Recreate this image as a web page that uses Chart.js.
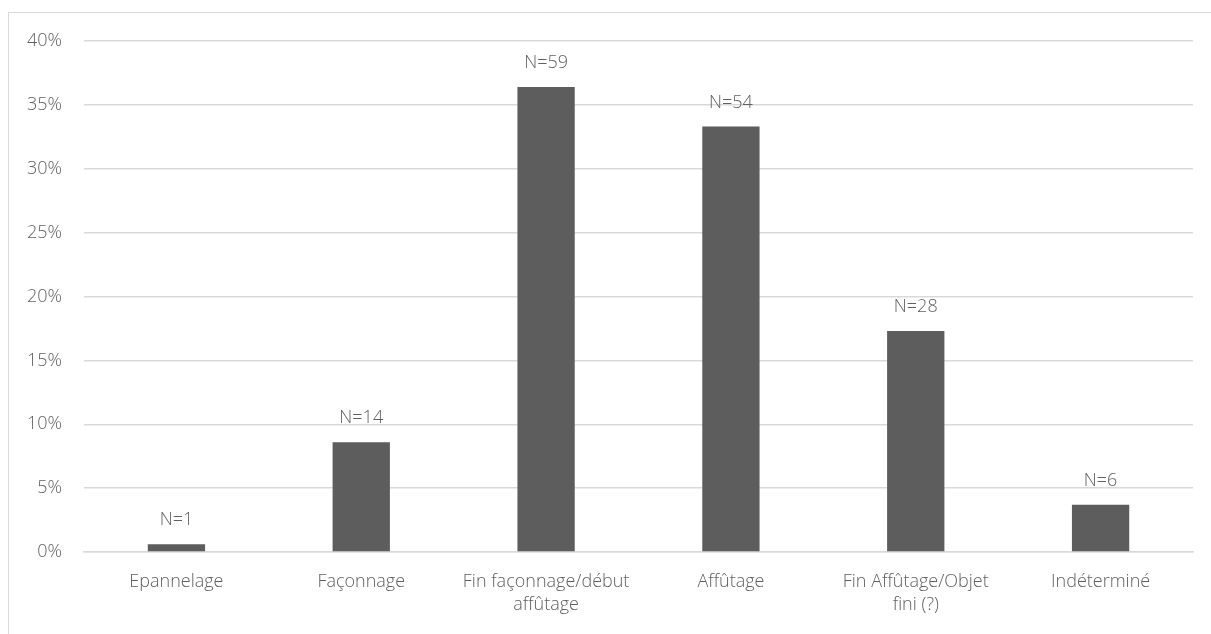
<!DOCTYPE html>
<html>
<head>
<meta charset="utf-8">
<script src="https://cdn.jsdelivr.net/npm/chart.js@4/dist/chart.umd.min.js"></script>
<style>
  body { margin: 0; background: #fff; overflow: hidden; }
  #frame {
    position: absolute; left: 8px; top: 12px;
    width: 1240px; height: 660px;
    border: 1px solid #d9d9d9;
  }
  #wrap { position: absolute; left: 0; top: 0; }
</style>
</head>
<body>
<div id="frame"></div>
<div id="wrap"><canvas id="phaseChart" width="1211" height="634"></canvas></div>
<script>
// ================= DATA =================
let categories = [
    "Epannelage",
    "Façonnage",
    ["Fin façonnage/début", "affûtage"],
    "Affûtage",
    ["Fin Affûtage/Objet", "fini (?)"],
    "Indéterminé"
];
let percentValues = [0.6, 8.6, 36.4, 33.3, 17.3, 3.7];
let countLabels = ["N=1", "N=14", "N=59", "N=54", "N=28", "N=6"];
let yTicks = [0, 5, 10, 15, 20, 25, 30, 35, 40];

let textColor = "#5f5f5f";
let fontFamily = "'Open Sans', Lato, sans-serif";

// ================= LABELS ABOVE BARS =================
let countLabelPlugin = {
    id: "countLabels",
    afterDatasetsDraw(chart){
        let ctx = chart.ctx;
        let meta = chart.getDatasetMeta(0);
        ctx.save();
        ctx.font = "300 18px " + fontFamily;
        ctx.fillStyle = textColor;
        ctx.textAlign = "center";
        ctx.textBaseline = "middle";
        meta.data.forEach((bar, i) => {
            ctx.fillText(countLabels[i], bar.x, bar.y - 24);
        });
        ctx.restore();
    }
};

// ================= CHART =================
new Chart(document.getElementById("phaseChart"), {
    type: "bar",
    data: {
        labels: categories,
        datasets: [{
            data: percentValues,
            backgroundColor: "#5d5d5d",
            barPercentage: 0.31,
            categoryPercentage: 1
        }]
    },
    options: {
        responsive: false,
        animation: false,
        layout: { padding: { top: 41, right: 18, left: 0, bottom: 0 } },
        plugins: {
            legend: { display: false },
            tooltip: { enabled: false }
        },
        scales: {
            x: {
                grid: { display: false },
                border: { color: "#d9d9d9", width: 1.5 },
                ticks: {
                    color: textColor,
                    font: { family: fontFamily, size: 18, weight: 300, lineHeight: 1.3 },
                    padding: 10,
                    maxRotation: 0
                },
                afterFit(scale){ scale.height = 82; }
            },
            y: {
                min: 0,
                max: 40,
                afterBuildTicks(scale){
                    scale.ticks = yTicks.map(v => ({ value: v }));
                },
                grid: { color: "#d9d9d9", lineWidth: 1.5, drawTicks: false },
                border: { display: false },
                ticks: {
                    color: textColor,
                    font: { family: fontFamily, size: 18, weight: 300 },
                    padding: 22,
                    callback: v => v + "%"
                },
                afterFit(scale){ scale.width = 84; }
            }
        }
    },
    plugins: [countLabelPlugin]
});
</script>
</body>
</html>
